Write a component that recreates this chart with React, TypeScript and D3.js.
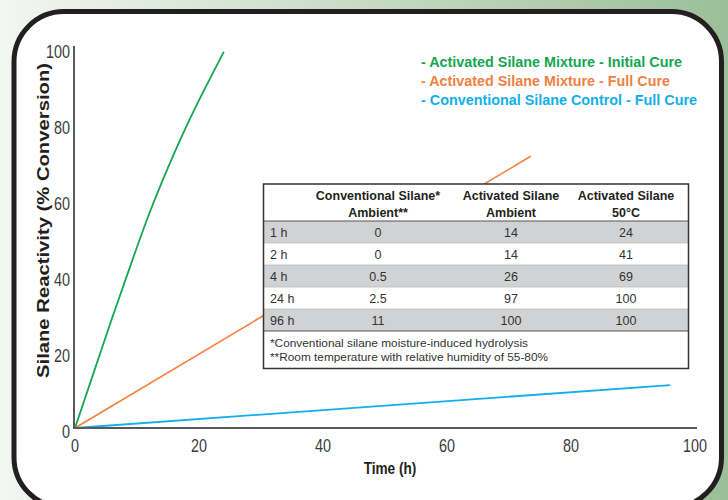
import React from "react";
import * as d3 from "d3";

// ---- Data ----
const greenSeries: [number, number][] = [
  [0, 0], [3, 14.5], [6, 29], [9, 43], [12, 56.5], [15, 68.5], [18, 79.5], [21, 89.5], [24, 99],
];
const orangeSeries: [number, number][] = [[0, 0], [73.5, 71.5]];
const blueSeries: [number, number][] = [[0, 0], [96, 11.3]];

const xTicks = [0, 20, 40, 60, 80, 100];
const yTicks = [0, 20, 40, 60, 80, 100];

const legendLabels = [
  "- Activated Silane Mixture - Initial Cure",
  "- Activated Silane Mixture - Full Cure",
  "- Conventional Silane Control - Full Cure",
];
const seriesColors = ["#14a650", "#f0813f", "#12aeea"];

const tableHeaders = [
  ["", ""],
  ["Conventional Silane*", "Ambient**"],
  ["Activated Silane", "Ambient"],
  ["Activated Silane", "50°C"],
];
const tableTimes = ["1 h", "2 h", "4 h", "24 h", "96 h"];
const conventionalAmbient = ["0", "0", "0.5", "2.5", "11"];
const activatedAmbient = ["14", "14", "26", "97", "100"];
const activated50 = ["24", "41", "69", "100", "100"];
const footnotes = [
  "*Conventional silane moisture-induced hydrolysis",
  "**Room temperature with relative humidity of 55-80%",
];

const FONT_REG = "'Liberation Sans', Arial, Helvetica, sans-serif";

export default function App() {
  const W = 728, H = 500;
  const x = d3.scaleLinear().domain([0, 100]).range([75, 695]);
  const y = d3.scaleLinear().domain([0, 100]).range([428, 48]);

  const lineCurve = d3.line<[number, number]>().x(d => x(d[0])).y(d => y(d[1])).curve(d3.curveNatural);
  const lineStraight = d3.line<[number, number]>().x(d => x(d[0])).y(d => y(d[1]));

  // table geometry
  const tL = 263.5, tR = 688.5, tT = 184, hdrB = 221, rowH = 22, fnB = 368.5;
  const colC = [270, 378, 511, 626];
  const rows = tableTimes.map((t, i) => [t, conventionalAmbient[i], activatedAmbient[i], activated50[i]]);
  const rowsB = hdrB + rowH * rows.length;

  const legendWidths = [261, 249, 276];
  const footWidths = [258, 278];

  return (
    <div style={{ position: "absolute", left: 0, top: 0 }}>
      <svg width={W} height={H} viewBox={`0 0 ${W} ${H}`} style={{ display: "block" }}>
        <defs>
          <linearGradient id="bg" x1="0" x2="1" y1="0" y2="0">
            <stop offset="0" stopColor="#f3f6f2" />
            <stop offset="0.4" stopColor="#cfe0cd" />
            <stop offset="1" stopColor="#9bbf99" />
          </linearGradient>
        </defs>
        <rect x={0} y={0} width={W} height={H} fill="url(#bg)" />
        <rect x={14} y={11.5} width={707.5} height={496} rx={50} ry={50} fill="#ffffff" stroke="#231f20" strokeWidth={5} />

        {/* series */}
        <path d={lineStraight(blueSeries) || ""} fill="none" stroke={seriesColors[2]} strokeWidth={1.8} />
        <path d={lineStraight(orangeSeries) || ""} fill="none" stroke={seriesColors[1]} strokeWidth={1.6} />
        <path d={lineCurve(greenSeries) || ""} fill="none" stroke={seriesColors[0]} strokeWidth={1.8} />

        {/* axes */}
        <line x1={74} x2={74} y1={46} y2={y(0)} stroke="#58595b" strokeWidth={2} />
        <line x1={73} x2={697} y1={y(0)} y2={y(0)} stroke="#58595b" strokeWidth={2} />
        {yTicks.map(t => (
          <g key={"y" + t} transform={`translate(70,${y(t) + 10}) scale(0.8,1)`}>
            <text x={0} y={0} textAnchor="end" fontFamily={FONT_REG} fontSize={18} fill="#3b3b3b">{t}</text>
          </g>
        ))}
        {xTicks.map(t => (
          <g key={"x" + t} transform={`translate(${x(t)},451.5) scale(0.8,1)`}>
            <text x={0} y={0} textAnchor="middle" fontFamily={FONT_REG} fontSize={18} fill="#3b3b3b">{t}</text>
          </g>
        ))}
        <g transform="translate(390,474) scale(0.85,1)">
          <text x={0} y={0} textAnchor="middle" fontFamily={FONT_REG} fontWeight="bold" fontSize={16} fill="#231f20">Time (h)</text>
        </g>
        <text transform={`translate(49,220.5) rotate(-90)`} textAnchor="middle" fontFamily={FONT_REG}
          fontWeight="bold" fontSize={16.5} fill="#231f20" textLength={315} lengthAdjust="spacingAndGlyphs">
          Silane Reactivity (% Conversion)
        </text>

        {/* legend */}
        {legendLabels.map((l, i) => (
          <text key={l} x={421} y={66.5 + i * 19.3} fontFamily={FONT_REG} fontWeight="bold" fontSize={14}
            fill={seriesColors[i]} textLength={legendWidths[i]} lengthAdjust="spacingAndGlyphs">{l}</text>
        ))}

        {/* table */}
        <rect x={tL} y={tT} width={tR - tL} height={fnB - tT} fill="#ffffff" />
        {rows.map((r, i) => (
          <rect key={"bg" + i} x={tL} y={hdrB + i * rowH} width={tR - tL} height={rowH}
            fill={i % 2 === 0 ? "#d1d2d4" : "#ffffff"} />
        ))}
        {rows.map((r, i) => i > 0 ? (
          <line key={"rl" + i} x1={tL} x2={tR} y1={hdrB + i * rowH} y2={hdrB + i * rowH} stroke="#b9babc" strokeWidth={0.8} />
        ) : null)}
        <line x1={tL} x2={tR} y1={hdrB} y2={hdrB} stroke="#555" strokeWidth={1} />
        <line x1={tL} x2={tR} y1={rowsB} y2={rowsB} stroke="#555" strokeWidth={1} />
        <rect x={tL} y={tT} width={tR - tL} height={fnB - tT} fill="none" stroke="#333" strokeWidth={1.5} />
        {tableHeaders.map((h, c) => c === 0 ? null : (
          <g key={"h" + c}>
            <text x={colC[c]} y={200} textAnchor="middle" fontFamily={FONT_REG} fontWeight="bold" fontSize={12.5} fill="#231f20">{h[0]}</text>
            <text x={colC[c]} y={216.5} textAnchor="middle" fontFamily={FONT_REG} fontWeight="bold" fontSize={12.5} fill="#231f20">{h[1]}</text>
          </g>
        ))}
        {rows.map((r, i) => (
          <g key={"r" + i}>
            {r.map((v, c) => (
              <text key={c} x={colC[c]} y={hdrB + i * rowH + 16} textAnchor={c === 0 ? "start" : "middle"}
                fontFamily={FONT_REG} fontSize={12.5} fill="#333">{v}</text>
            ))}
          </g>
        ))}
        {footnotes.map((f, i) => (
          <text key={f} x={270} y={346.5 + i * 14} fontFamily={FONT_REG} fontSize={11.5} fill="#333"
            textLength={footWidths[i]} lengthAdjust="spacingAndGlyphs">{f}</text>
        ))}
      </svg>
    </div>
  );
}
